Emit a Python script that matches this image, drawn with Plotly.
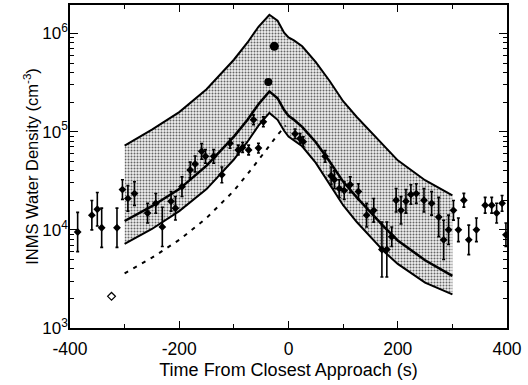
import plotly.graph_objects as go

# ---- model curves (time s, density cm^-3) ----
t_model = [-300, -250, -200, -150, -100, -75, -55, -35, -20, -8, 0, 10, 25, 50, 75, 100, 125, 150, 175, 200, 250, 300]
upper_env = [7.2e4, 1.05e5, 1.58e5, 2.7e5, 5.4e5, 8.1e5, 1.17e6, 1.55e6, 1.35e6, 1.02e6, 9.1e5, 8.5e5, 7.4e5, 5.1e5,
             3.3e5, 2.04e5, 1.41e5, 1.0e5, 7.2e4, 5.1e4, 3.2e4, 2.24e4]
model_mid = [1.23e4, 1.74e4, 2.6e4, 4.5e4, 8.9e4, 1.32e5, 1.9e5, 2.57e5, 2.19e5, 1.66e5, 1.45e5, 1.32e5, 1.12e5, 7.8e4,
             5.0e4, 3.1e4, 2.14e4, 1.51e4, 1.07e4, 7.8e3, 4.9e3, 3.4e3]
lower_env = [7.2e3, 1.02e4, 1.55e4, 2.6e4, 5.2e4, 7.9e4, 1.15e5, 1.55e5, 1.32e5, 1.02e5, 8.9e4, 8.1e4, 7.1e4, 4.8e4,
             2.95e4, 1.78e4, 1.2e4, 8.5e3, 6.0e3, 4.5e3, 2.9e3, 2.2e3]

t_dash = [-300, -250, -200, -150, -100, -70, -40, -20, -5]
dash_model = [3.6e3, 5.2e3, 7.9e3, 1.32e4, 2.5e4, 4.0e4, 6.6e4, 9.3e4, 1.15e5]

# ---- INMS measurements ----
t_obs = [-386, -360, -350, -342, -314, -304, -294, -282, -258, -243, -231, -215, -207, -195, -180, -171, -159, -152,
         -137, -122, -107, -92, -84, -73, -64, -55, -46,
         12, 21, 27, 67, 78, 84, 93, 102, 113, 128, 143, 156, 171, 180, 189, 197, 206, 215, 224, 234, 248, 262,
         275, 284, 293, 302, 311, 321, 330, 344, 360, 372, 381, 391, 398]
n_obs = [9.5e3, 1.41e4, 1.62e4, 1.05e4, 1.05e4, 2.57e4, 2.09e4, 2.34e4, 1.48e4, 1.86e4, 1.07e4, 1.95e4, 1.66e4,
         2.75e4, 4.07e4, 4.68e4, 6.3e4, 5.6e4, 5.6e4, 3.63e4, 7.6e4, 6.5e4, 6.9e4, 6.5e4, 1.32e5, 6.8e4, 1.26e5,
         9.5e4, 8.5e4, 7.9e4, 5.6e4, 3.55e4, 3.24e4, 2.63e4, 2.51e4, 2.88e4, 2.45e4, 1.41e4, 1.58e4, 6.3e3, 6.3e3,
         8.5e3, 2.0e4, 1.58e4, 1.95e4, 2.29e4, 2.34e4, 2.0e4, 1.86e4, 1.35e4, 7.9e3, 1.0e4, 1.58e4, 1.0e4, 2.0e4,
         7.9e3, 1.0e4, 1.78e4, 1.78e4, 1.48e4, 1.86e4, 8.9e3]
err_dex = [0.2, 0.15, 0.17, 0.2, 0.2, 0.1, 0.13, 0.12, 0.1, 0.1, 0.2, 0.1, 0.12, 0.1, 0.08, 0.08, 0.08, 0.07,
           0.07, 0.08, 0.05, 0.05, 0.05, 0.05, 0.05, 0.05, 0.05,
           0.05, 0.05, 0.05, 0.06, 0.09, 0.09, 0.09, 0.09, 0.08, 0.08, 0.12, 0.12, 0.28, 0.28, 0.1, 0.12, 0.14,
           0.12, 0.1, 0.1, 0.12, 0.12, 0.2, 0.2, 0.15, 0.1, 0.12, 0.07, 0.15, 0.12, 0.08, 0.08, 0.1, 0.08, 0.12]

t_peak = [-37, -26]
n_peak = [3.2e5, 7.4e5]
t_open = [-324]
n_open = [2.1e3]

err_plus = [n * (10 ** d) - n for n, d in zip(n_obs, err_dex)]
err_minus = [n - n / (10 ** d) for n, d in zip(n_obs, err_dex)]

FONT = "Liberation Sans, Arial, Helvetica, sans-serif"

fig = go.Figure()
fig.add_trace(go.Scatter(x=t_model, y=lower_env, mode="lines", line=dict(color="black", width=2),
                         showlegend=False, hoverinfo="skip"))
fig.add_trace(go.Scatter(x=t_model, y=upper_env, mode="lines", line=dict(color="black", width=2),
                         fill="tonexty",
                         fillpattern=dict(shape=".", fgcolor="#666666", bgcolor="#f0f0f0", size=3, solidity=0.35),
                         showlegend=False, hoverinfo="skip"))
fig.add_trace(go.Scatter(x=t_model, y=model_mid, mode="lines", line=dict(color="black", width=2.5),
                         showlegend=False))
fig.add_trace(go.Scatter(x=t_dash, y=dash_model, mode="lines", line=dict(color="black", width=2, dash="4px,6px"),
                         showlegend=False))
fig.add_trace(go.Scatter(x=t_obs, y=n_obs, mode="markers",
                         marker=dict(symbol="diamond", size=6, color="black", line=dict(width=0)),
                         error_y=dict(type="data", symmetric=False, array=err_plus, arrayminus=err_minus,
                                      color="black", thickness=1.6, width=1.5),
                         showlegend=False))
fig.add_trace(go.Scatter(x=t_peak, y=n_peak, mode="markers",
                         marker=dict(symbol="circle", size=[8, 9], color="black", opacity=1,
                                     line=dict(width=0)), showlegend=False))
fig.add_trace(go.Scatter(x=t_open, y=n_open, mode="markers",
                         marker=dict(symbol="diamond-open", size=6, color="black", line=dict(width=1.2)),
                         showlegend=False))

minor_y = [m * 10 ** e for e in (3, 4, 5, 6) for m in range(2, 10)]

fig.update_layout(
    template="none",
    width=528, height=385,
    margin=dict(l=70, r=21, t=5, b=57),
    paper_bgcolor="white", plot_bgcolor="white",
    font=dict(family=FONT, size=17, color="black"),
    showlegend=False,
)
fig.update_xaxes(
    automargin=False,
    range=[-400, 400], tickmode="array", tickvals=[-400, -200, 0, 200, 400],
    ticktext=["-400", "-200", "0", "200", "400"],
    ticks="inside", ticklen=7, tickwidth=1.2, tickcolor="black",
    minor=dict(ticks="inside", ticklen=4, dtick=100, tickcolor="black", showgrid=False),
    showline=True, linecolor="black", linewidth=1.5, mirror="allticks",
    showgrid=False, zeroline=False,
    ticklabelstandoff=4,
    title=dict(text="Time From Closest Approach (s)", font=dict(size=18), standoff=6),
    tickfont=dict(size=17.5),
)
fig.update_yaxes(
    automargin=False,
    type="log", range=[3, 6.29], tickmode="array", tickvals=[1e3, 1e4, 1e5, 1e6],
    ticktext=["10<sup>3</sup>", "10<sup>4</sup>", "10<sup>5</sup>", "10<sup>6</sup>"],
    ticks="inside", ticklen=8, tickwidth=1.2, tickcolor="black",
    minor=dict(ticks="inside", ticklen=4, tickmode="array", tickvals=minor_y, tickcolor="black", showgrid=False),
    showline=True, linecolor="black", linewidth=1.5, mirror="allticks",
    showgrid=False, zeroline=False,
    ticklabelstandoff=-3,
    title=dict(text="INMS Water Density (cm<sup>-3</sup>)", font=dict(size=16.5), standoff=0),
    tickfont=dict(size=17),
)

fig.write_html("out.html", config={"displayModeBar": False},
               post_script="document.body.style.margin='0px';")
